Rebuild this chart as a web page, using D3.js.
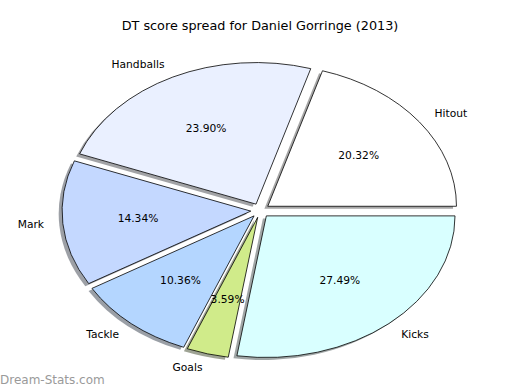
<!DOCTYPE html>
<html>
<head>
<meta charset="utf-8">
<script src="https://cdn.jsdelivr.net/npm/d3@7"></script>
<style>
  body { margin: 0; background: #fff; }
  text { font-family: "DejaVu Sans", sans-serif; fill: #000; }
</style>
</head>
<body>
<svg id="chart" width="520" height="390"></svg>
<script>
var labels = ["Hitout", "Handballs", "Mark", "Tackle", "Goals", "Kicks"];
var values = [20.32, 23.90, 14.34, 10.36, 3.59, 27.49];
var colors = ["#ffffff", "#eaf0ff", "#c4d8ff", "#b4d6ff", "#d0eb8a", "#d9ffff"];

var W = 520, H = 390;
var cx = 260.2, cy = 210.5, rx = 188.7, ry = 141.6;
var EXPLODE = 0.05, SHADOW = 0.018;

var svg = d3.select("#chart");

svg.append("text")
   .attr("x", W / 2).attr("y", 25.5)
   .attr("text-anchor", "middle").attr("dy", "0.35em")
   .style("font-size", "12.8px")
   .text("DT score spread for Daniel Gorringe (2013)");

// matplotlib style: start at east, go counter clockwise
var pie = d3.pie().sort(null)
    .startAngle(Math.PI / 2)
    .endAngle(Math.PI / 2 - 2 * Math.PI);

var arcs = pie(values);
var arc = d3.arc().innerRadius(0).outerRadius(1);

var sx = d3.scaleLinear().domain([-1, 1]).range([cx - rx, cx + rx]);
var sy = d3.scaleLinear().domain([-1, 1]).range([cy - ry, cy + ry]);

// mid angle in math convention
function mid(d) {
  var a = (d.startAngle + d.endAngle) / 2;
  return Math.PI / 2 - a;
}

function wedgeTransform(d, ox, oy) {
  var t = mid(d);
  var ux = EXPLODE * Math.cos(t) + ox, uy = -EXPLODE * Math.sin(t) + oy;
  return "translate(" + sx(ux) + "," + sy(uy) + ") scale(" + rx + "," + ry + ")";
}

var shadows = svg.append("g");
shadows.selectAll("path")
  .data(arcs)
  .enter().append("path")
    .attr("d", arc)
    .attr("transform", function(d) { return wedgeTransform(d, -SHADOW, SHADOW); })
    .attr("fill", function(d, i) {
      var c = d3.rgb(colors[i]);
      return d3.rgb(c.r * 0.3, c.g * 0.3, c.b * 0.3);
    })
    .attr("fill-opacity", 0.5);

var wedges = svg.append("g");
wedges.selectAll("path")
  .data(arcs)
  .enter().append("path")
    .attr("d", arc)
    .attr("transform", function(d) { return wedgeTransform(d, 0, 0); })
    .attr("fill", function(d, i) { return colors[i]; })
    .attr("stroke", "#000")
    .attr("stroke-width", 0.8)
    .attr("stroke-linejoin", "miter")
    .attr("vector-effect", "non-scaling-stroke");

// category labels at 1.1 radius
svg.append("g").selectAll("text")
  .data(arcs)
  .enter().append("text")
    .attr("x", function(d) { return sx((1.1 + EXPLODE) * Math.cos(mid(d))); })
    .attr("y", function(d) { return sy(-(1.1 + EXPLODE) * Math.sin(mid(d))); })
    .attr("dy", "0.35em")
    .attr("text-anchor", function(d) { return Math.cos(mid(d)) > 0 ? "start" : "end"; })
    .style("font-size", "10.7px")
    .text(function(d, i) { return labels[i]; });

// percentages at 0.6 radius
svg.append("g").selectAll("text")
  .data(arcs)
  .enter().append("text")
    .attr("x", function(d) { return sx((0.6 + EXPLODE) * Math.cos(mid(d))); })
    .attr("y", function(d) { return sy(-(0.6 + EXPLODE) * Math.sin(mid(d))); })
    .attr("dy", "0.35em")
    .attr("text-anchor", "middle")
    .style("font-size", "10.7px")
    .text(function(d) { return d.value.toFixed(2) + "%"; });

svg.append("text")
   .attr("x", 0).attr("y", 379.5)
   .attr("dy", "0.35em")
   .style("font-size", "12px")
   .style("fill", "#9a9a9a")
   .text("Dream-Stats.com");
</script>
</body>
</html>
